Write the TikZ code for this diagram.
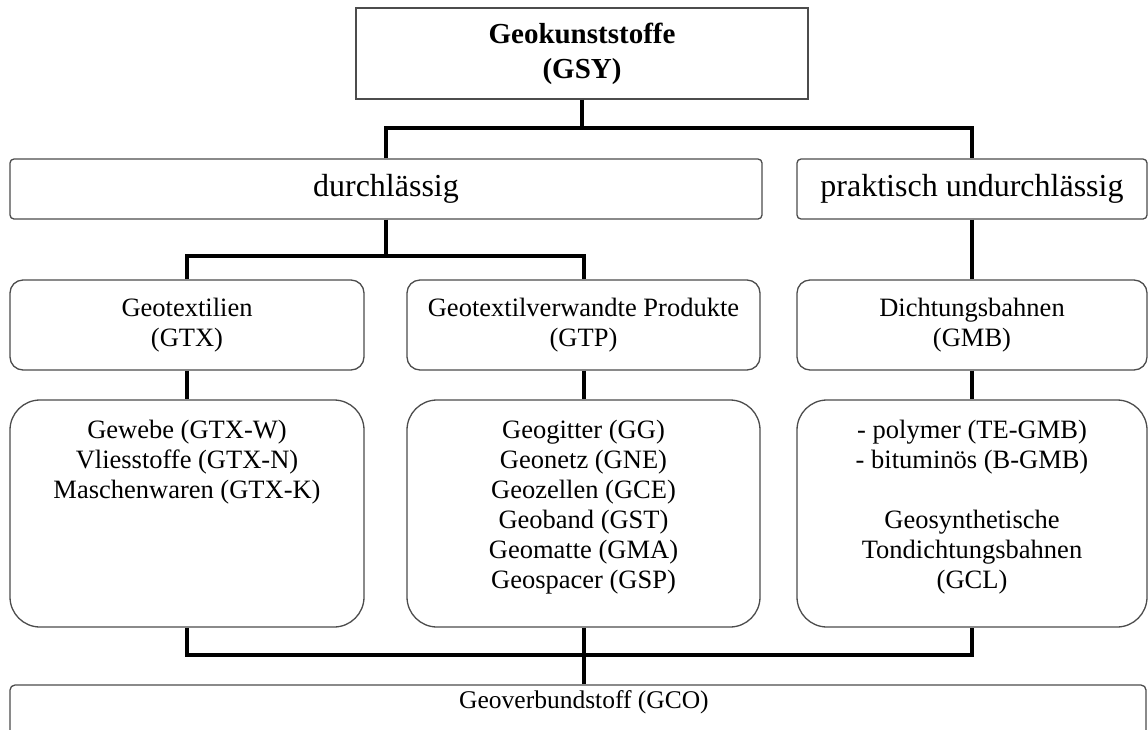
\documentclass[tikz,border=0pt]{standalone}
\usepackage{fontspec}
\setmainfont{Liberation Serif}
\begin{document}
\begin{tikzpicture}[x=1pt,y=-1pt,
  box/.style={draw=black!70, line width=1.3pt, fill=white, inner sep=0pt, align=center},
  topbox/.style={box, minimum width=452pt, minimum height=91pt, font=\fontsize{29pt}{35pt}\selectfont\bfseries},
  midbox/.style={box, rounded corners=4pt, minimum height=60pt, font=\fontsize{32pt}{36pt}\selectfont},
  catbox/.style={box, rounded corners=13pt, minimum height=90pt, font=\fontsize{26.5pt}{30pt}\selectfont},
  listbox/.style={box, rounded corners=30pt, minimum height=227pt},
  listtext/.style={inner sep=0pt, align=center, anchor=north, font=\fontsize{26.5pt}{30pt}\selectfont},
  conn/.style={line width=4pt, black}
]
\useasboundingbox (0,0) rectangle (1148,729);
\clip (0,0) rectangle (1148,729);

\node[topbox] (gsy) at (582,53.5) {Geokunststoffe\\(GSY)};
\node[midbox, minimum width=752pt] (durch) at (386,189) {durchlässig};
\node[midbox, minimum width=350pt] (prakt) at (972,189) {praktisch undurchlässig};

\node[catbox, minimum width=354pt] (gtx) at (187,325) {Geotextilien\\(GTX)};
\node[catbox, minimum width=353pt] (gtp) at (583.5,325) {Geotextilverwandte Produkte\\(GTP)};
\node[catbox, minimum width=350pt] (gmb) at (972,325) {Dichtungsbahnen\\(GMB)};

\node[listbox, minimum width=354pt] (gtxl) at (187,513.5) {};
\node[listbox, minimum width=353pt] (gtpl) at (583.5,513.5) {};
\node[listbox, minimum width=350pt] (gmbl) at (972,513.5) {};

\node[listtext] (gtxt) at (187,420) {Gewebe (GTX-W)\\Vliesstoffe (GTX-N)\\Maschenwaren (GTX-K)};
\node[listtext] (gtpt) at (583.5,420) {Geogitter (GG)\\Geonetz (GNE)\\Geozellen (GCE)\\Geoband (GST)\\Geomatte (GMA)\\Geospacer (GSP)};
\node[listtext] (gmbt) at (972,420) {- polymer (TE-GMB)\\- bituminös (B-GMB)\\[30pt]Geosynthetische\\Tondichtungsbahnen\\(GCL)};

\node[box, rounded corners=5pt, minimum width=1136pt, minimum height=100pt] (gco) at (578,735) {};
\node[inner sep=0pt, font=\fontsize{25.5pt}{30pt}\selectfont] (gcot) at (584,702) {Geoverbundstoff (GCO)};

\coordinate (t1) at (582,128);
\draw[conn] (gsy.south) -- (t1);
\draw[conn] (durch.north) -- (durch.north |- t1) -| (prakt.north);

\coordinate (t2) at (386,256);
\draw[conn] (durch.south) -- (t2);
\draw[conn] (gtx.north) -- (gtx.north |- t2) -| (gtp.north);
\draw[conn] (prakt.south) -- (gmb.north);

\draw[conn] (gtx.south) -- (gtxl.north);
\draw[conn] (gtp.south) -- (gtpl.north);
\draw[conn] (gmb.south) -- (gmbl.north);

\coordinate (t3) at (583.5,655);
\draw[conn] (gtxl.south) -- (gtxl.south |- t3) -| (gmbl.south);
\draw[conn] (gtpl.south) -- (gtpl.south |- gco.north);
\end{tikzpicture}
\end{document}
